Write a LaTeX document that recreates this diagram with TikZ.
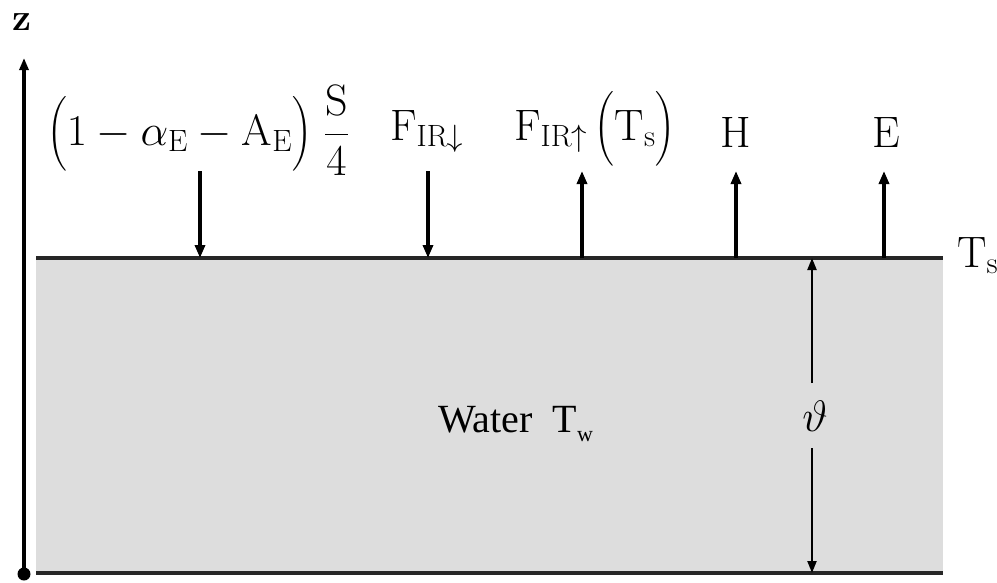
\RequirePackage{fix-cm}
\documentclass[tikz,border=0pt]{standalone}
\usepackage{amsmath}
\usepackage{fontspec}
\usetikzlibrary{arrows.meta}
\newfontfamily\waterfont{Liberation Serif}
\definecolor{watergray}{HTML}{DDDDDD}
\tikzset{
  flux/.style={line width=3.2pt,-{Triangle[length=13pt,width=10pt]}},
  depth/.style={line width=2.2pt,-{Triangle[length=12pt,width=9pt]}},
  surf/.style={line width=3.2pt,draw=black!85},
  lab/.style={inner sep=0pt,font=\fontsize{44}{50}\selectfont}
}
\begin{document}
\begin{tikzpicture}[x=1pt,y=-1pt]
\useasboundingbox (0,0) rectangle (997,582);
% water body
\coordinate (wtl) at (36,258);
\coordinate (wtr) at (943,258);
\coordinate (wbl) at (36,573);
\coordinate (wbr) at (943,573);
\fill[watergray] (wtl) rectangle (wbr);
\draw[surf] (wtl) -- (wtr);
\draw[surf] (wbl) -- (wbr);
% z axis
\coordinate (zb) at (24,574);
\coordinate (zt) at (24,58);
\draw[line width=3.4pt,-{Triangle[length=12pt,width=9pt]}] (zb) -- (zt);
\fill (zb) circle (6.5);
\node[lab,font=\fontsize{38}{44}\selectfont\bfseries,anchor=base] (zlab) at (22,30) {z};
% labels
\node[lab] (sw) at (198,130) {$\displaystyle\Bigl(1-\alpha_{\mathrm{E}}-\mathrm{A}_{\mathrm{E}}\Bigr)\;\frac{\mathrm{S}}{4}$};
\node[lab,anchor=base west] (firdn) at (390,140) {$\mathrm{F}_{\mathrm{IR}\downarrow}$};
\node[lab,anchor=base west] (firup) at (514,140) {$\mathrm{F}_{\mathrm{IR}\uparrow}\,\Bigl(\mathrm{T}_{\mathrm{s}}\Bigr)$};
\node[lab,anchor=base west] (hlab) at (720,147) {$\mathrm{H}$};
\node[lab,anchor=base west] (elab) at (872,147) {$\mathrm{E}$};
\node[lab,anchor=base west] (tslab) at (957,267) {$\mathrm{T}_{\mathrm{s}}$};
\node[lab,anchor=base west,font=\fontsize{40}{50}\selectfont\waterfont] (wlab) at (438,432) {Water\ \ T\raisebox{-9pt}{\fontsize{22}{24}\selectfont w}};
\node[lab] (theta) at (815,416) {$\vartheta$};
% flux arrows
\coordinate (a1t) at (200,171); \coordinate (a1b) at (200,258);
\coordinate (a2t) at (428,171); \coordinate (a2b) at (428,258);
\coordinate (a3t) at (582,171); \coordinate (a3b) at (582,258);
\coordinate (a4t) at (736,171); \coordinate (a4b) at (736,258);
\coordinate (a5t) at (884,171); \coordinate (a5b) at (884,258);
\draw[flux] (a1t) -- (a1b);
\draw[flux] (a2t) -- (a2b);
\draw[flux] (a3b) -- (a3t);
\draw[flux] (a4b) -- (a4t);
\draw[flux] (a5b) -- (a5t);
% depth arrow
\coordinate (d1) at (812,383); \coordinate (dtop) at (812,258);
\coordinate (d2) at (812,448); \coordinate (dbot) at (812,573);
\draw[depth] (d1) -- (dtop);
\draw[depth] (d2) -- (dbot);
\end{tikzpicture}
\end{document}
